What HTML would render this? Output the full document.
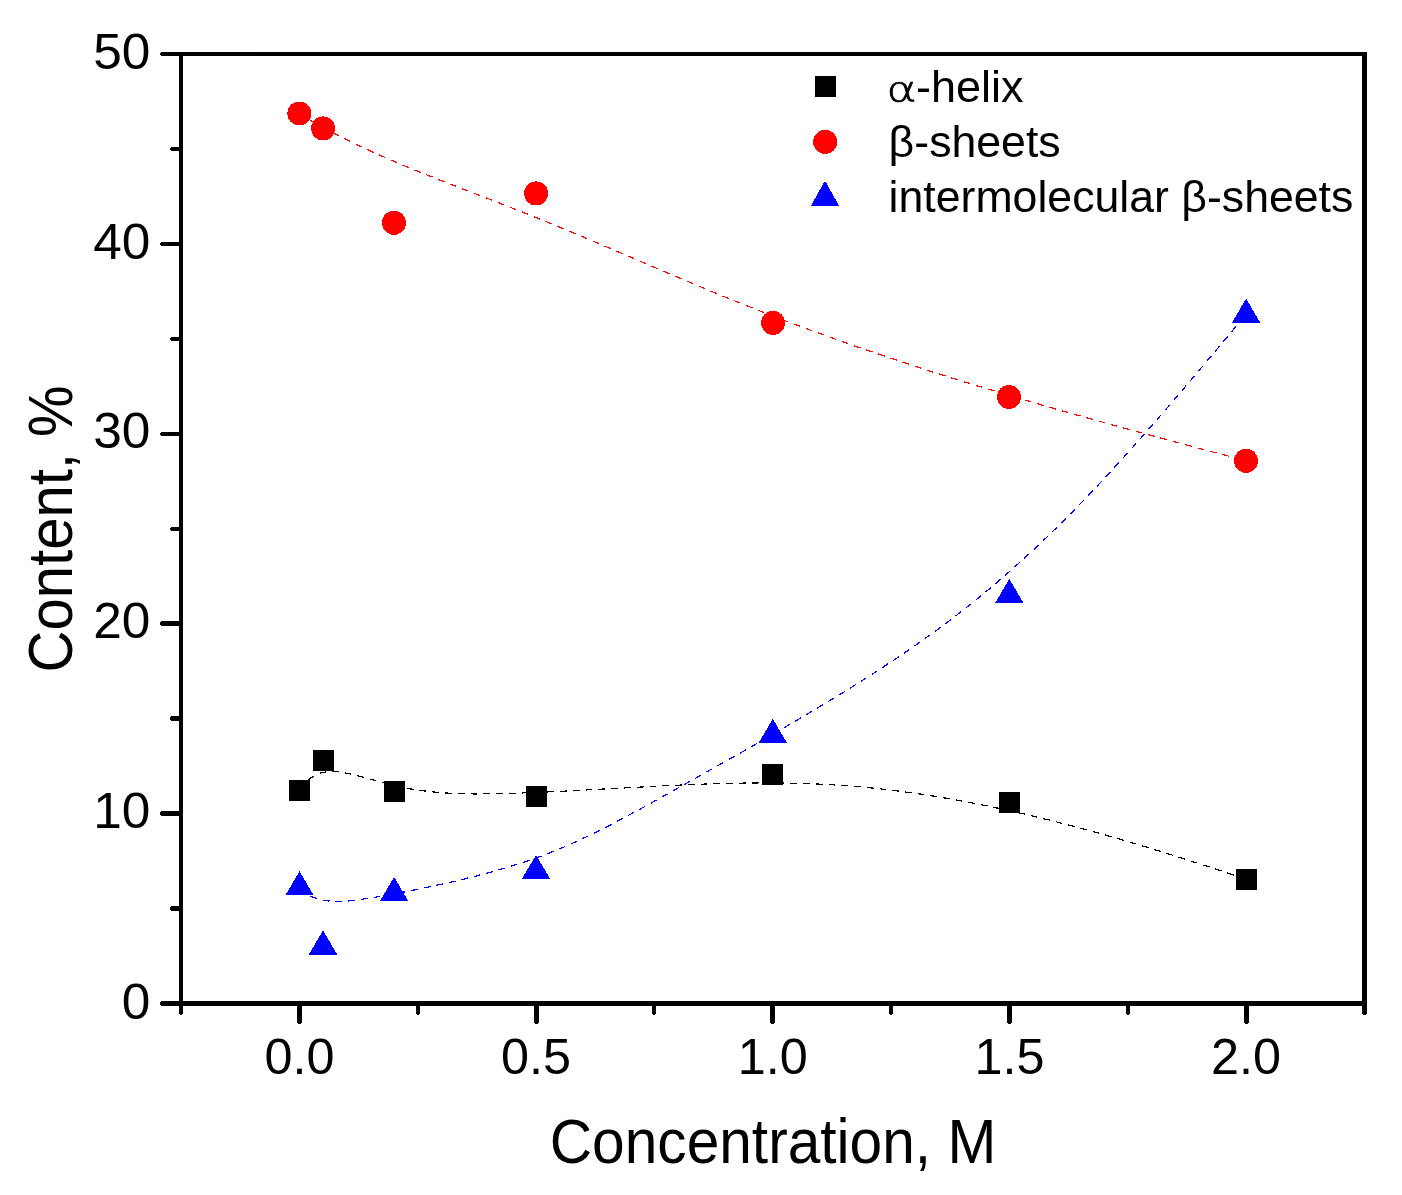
<!DOCTYPE html>
<html lang="en"><head><meta charset="utf-8"><title>Secondary structure content vs concentration</title>
<style>
html,body{margin:0;padding:0;background:#fff;}
body{width:1402px;height:1195px;overflow:hidden;}
svg{display:block;opacity:.999;will-change:transform;}
text{font-family:"Liberation Sans",Arial,Helvetica,sans-serif;fill:#000;}
.tk{font-size:49.3px;}
.ti{font-size:62.5px;}
.lg{font-size:44.6px;}
.al{font-family:"DejaVu Sans","Liberation Sans",sans-serif;font-weight:200;font-size:35.2px;stroke:#000;stroke-width:0.7;}
.ax rect{fill:#000;}
.fit{fill:none;stroke-width:1.2;stroke-dasharray:6.8 6;}
</style></head><body>
<svg width="1402" height="1195" viewBox="0 0 1402 1195">
<rect x="0" y="0" width="1402" height="1195" fill="#fff"/>
<g class="fit" shape-rendering="crispEdges">
<path d="M299.5 113.9 L302.5 115.7 L305.5 117.5 L308.5 119.3 L311.5 121.0 L314.5 122.7 L317.5 124.4 L320.5 126.0 L323.5 127.7 L326.5 129.3 L329.5 130.9 L332.5 132.5 L335.5 134.0 L338.5 135.6 L341.5 137.1 L344.5 138.6 L347.5 140.1 L350.5 141.6 L353.5 143.1 L356.5 144.5 L359.5 145.9 L362.5 147.3 L365.5 148.7 L368.5 150.1 L371.5 151.5 L374.5 152.9 L377.5 154.2 L380.5 155.5 L383.5 156.8 L386.5 158.2 L389.5 159.5 L392.5 160.7 L395.5 162.0 L398.5 163.3 L401.5 164.6 L404.5 165.8 L407.5 167.0 L410.5 168.3 L413.5 169.5 L416.5 170.7 L419.5 171.9 L422.5 173.2 L425.5 174.4 L428.5 175.6 L431.5 176.7 L434.5 177.9 L437.5 179.1 L440.5 180.3 L443.5 181.5 L446.5 182.6 L449.5 183.8 L452.5 185.0 L455.5 186.1 L458.5 187.3 L461.5 188.5 L464.5 189.6 L467.5 190.8 L470.5 191.9 L473.5 193.1 L476.5 194.2 L479.5 195.4 L482.5 196.5 L485.5 197.7 L488.5 198.8 L491.5 200.0 L494.5 201.2 L497.5 202.3 L500.5 203.5 L503.5 204.7 L506.5 205.8 L509.5 207.0 L512.5 208.2 L515.5 209.3 L518.5 210.5 L521.5 211.7 L524.5 212.9 L527.5 214.1 L530.5 215.3 L533.5 216.5 L536.5 217.7 L539.5 218.9 L542.5 220.1 L545.5 221.4 L548.5 222.6 L551.5 223.8 L554.5 225.0 L557.5 226.3 L560.5 227.5 L563.5 228.8 L566.5 230.0 L569.5 231.3 L572.5 232.5 L575.5 233.8 L578.5 235.0 L581.5 236.3 L584.5 237.5 L587.5 238.8 L590.5 240.1 L593.5 241.3 L596.5 242.6 L599.5 243.9 L602.5 245.2 L605.5 246.4 L608.5 247.7 L611.5 249.0 L614.5 250.3 L617.5 251.5 L620.5 252.8 L623.5 254.1 L626.5 255.4 L629.5 256.7 L632.5 258.0 L635.5 259.2 L638.5 260.5 L641.5 261.8 L644.5 263.1 L647.5 264.4 L650.5 265.6 L653.5 266.9 L656.5 268.2 L659.5 269.5 L662.5 270.8 L665.5 272.0 L668.5 273.3 L671.5 274.6 L674.5 275.9 L677.5 277.1 L680.5 278.4 L683.5 279.7 L686.5 280.9 L689.5 282.2 L692.5 283.5 L695.5 284.7 L698.5 286.0 L701.5 287.2 L704.5 288.5 L707.5 289.7 L710.5 291.0 L713.5 292.2 L716.5 293.5 L719.5 294.7 L722.5 295.9 L725.5 297.2 L728.5 298.4 L731.5 299.6 L734.5 300.8 L737.5 302.0 L740.5 303.2 L743.5 304.4 L746.5 305.6 L749.5 306.8 L752.5 308.0 L755.5 309.2 L758.5 310.4 L761.5 311.6 L764.5 312.7 L767.5 313.9 L770.5 315.1 L773.5 316.2 L776.5 317.4 L779.5 318.5 L782.5 319.7 L785.5 320.8 L788.5 321.9 L791.5 323.1 L794.5 324.2 L797.5 325.3 L800.5 326.4 L803.5 327.6 L806.5 328.7 L809.5 329.8 L812.5 330.9 L815.5 332.0 L818.5 333.1 L821.5 334.1 L824.5 335.2 L827.5 336.3 L830.5 337.4 L833.5 338.5 L836.5 339.5 L839.5 340.6 L842.5 341.7 L845.5 342.7 L848.5 343.8 L851.5 344.8 L854.5 345.9 L857.5 346.9 L860.5 348.0 L863.5 349.0 L866.5 350.0 L869.5 351.1 L872.5 352.1 L875.5 353.1 L878.5 354.1 L881.5 355.1 L884.5 356.1 L887.5 357.1 L890.5 358.1 L893.5 359.1 L896.5 360.1 L899.5 361.1 L902.5 362.1 L905.5 363.1 L908.5 364.1 L911.5 365.1 L914.5 366.1 L917.5 367.0 L920.5 368.0 L923.5 369.0 L926.5 369.9 L929.5 370.9 L932.5 371.9 L935.5 372.8 L938.5 373.8 L941.5 374.7 L944.5 375.7 L947.5 376.6 L950.5 377.6 L953.5 378.5 L956.5 379.4 L959.5 380.4 L962.5 381.3 L965.5 382.2 L968.5 383.1 L971.5 384.1 L974.5 385.0 L977.5 385.9 L980.5 386.8 L983.5 387.7 L986.5 388.6 L989.5 389.5 L992.5 390.4 L995.5 391.3 L998.5 392.2 L1001.5 393.1 L1004.5 394.0 L1007.5 394.9 L1010.5 395.8 L1013.5 396.7 L1016.5 397.6 L1019.5 398.5 L1022.5 399.4 L1025.5 400.2 L1028.5 401.1 L1031.5 402.0 L1034.5 402.9 L1037.5 403.7 L1040.5 404.6 L1043.5 405.5 L1046.5 406.3 L1049.5 407.2 L1052.5 408.1 L1055.5 408.9 L1058.5 409.8 L1061.5 410.6 L1064.5 411.5 L1067.5 412.3 L1070.5 413.2 L1073.5 414.0 L1076.5 414.9 L1079.5 415.7 L1082.5 416.6 L1085.5 417.4 L1088.5 418.2 L1091.5 419.1 L1094.5 419.9 L1097.5 420.7 L1100.5 421.6 L1103.5 422.4 L1106.5 423.2 L1109.5 424.1 L1112.5 424.9 L1115.5 425.7 L1118.5 426.5 L1121.5 427.4 L1124.5 428.2 L1127.5 429.0 L1130.5 429.8 L1133.5 430.7 L1136.5 431.5 L1139.5 432.3 L1142.5 433.1 L1145.5 433.9 L1148.5 434.7 L1151.5 435.5 L1154.5 436.4 L1157.5 437.2 L1160.5 438.0 L1163.5 438.8 L1166.5 439.6 L1169.5 440.4 L1172.5 441.2 L1175.5 442.0 L1178.5 442.8 L1181.5 443.6 L1184.5 444.4 L1187.5 445.2 L1190.5 446.0 L1193.5 446.8 L1196.5 447.6 L1199.5 448.4 L1202.5 449.2 L1205.5 450.0 L1208.5 450.8 L1211.5 451.6 L1214.5 452.4 L1217.5 453.2 L1220.5 454.0 L1223.5 454.8 L1226.5 455.6 L1229.5 456.4 L1232.5 457.2 L1235.5 458.0 L1238.5 458.8 L1241.5 459.6 L1244.5 460.4 L1246.0 460.8" stroke="#f00"/>
<path d="M299.5 889.8 L302.5 891.8 L305.5 893.6 L308.5 895.2 L311.5 896.5 L314.5 897.7 L317.5 898.7 L320.5 899.5 L323.5 900.2 L326.5 900.7 L329.5 901.1 L332.5 901.3 L335.5 901.5 L338.5 901.5 L341.5 901.4 L344.5 901.3 L347.5 901.1 L350.5 900.8 L353.5 900.4 L356.5 900.0 L359.5 899.6 L362.5 899.2 L365.5 898.7 L368.5 898.2 L371.5 897.7 L374.5 897.3 L377.5 896.8 L380.5 896.2 L383.5 895.7 L386.5 895.2 L389.5 894.7 L392.5 894.1 L395.5 893.6 L398.5 893.0 L401.5 892.4 L404.5 891.9 L407.5 891.3 L410.5 890.7 L413.5 890.1 L416.5 889.5 L419.5 888.9 L422.5 888.2 L425.5 887.6 L428.5 887.0 L431.5 886.3 L434.5 885.7 L437.5 885.0 L440.5 884.4 L443.5 883.7 L446.5 883.1 L449.5 882.4 L452.5 881.7 L455.5 881.0 L458.5 880.3 L461.5 879.6 L464.5 878.9 L467.5 878.1 L470.5 877.4 L473.5 876.7 L476.5 875.9 L479.5 875.1 L482.5 874.3 L485.5 873.5 L488.5 872.7 L491.5 871.9 L494.5 871.1 L497.5 870.2 L500.5 869.4 L503.5 868.5 L506.5 867.6 L509.5 866.7 L512.5 865.8 L515.5 864.8 L518.5 863.9 L521.5 862.9 L524.5 861.9 L527.5 860.9 L530.5 859.9 L533.5 858.8 L536.5 857.7 L539.5 856.6 L542.5 855.5 L545.5 854.4 L548.5 853.3 L551.5 852.1 L554.5 850.9 L557.5 849.7 L560.5 848.4 L563.5 847.2 L566.5 845.9 L569.5 844.6 L572.5 843.2 L575.5 841.9 L578.5 840.5 L581.5 839.1 L584.5 837.7 L587.5 836.3 L590.5 834.9 L593.5 833.4 L596.5 831.9 L599.5 830.5 L602.5 828.9 L605.5 827.4 L608.5 825.9 L611.5 824.4 L614.5 822.8 L617.5 821.2 L620.5 819.6 L623.5 818.1 L626.5 816.5 L629.5 814.8 L632.5 813.2 L635.5 811.6 L638.5 810.0 L641.5 808.3 L644.5 806.7 L647.5 805.0 L650.5 803.4 L653.5 801.7 L656.5 800.0 L659.5 798.4 L662.5 796.7 L665.5 795.0 L668.5 793.3 L671.5 791.7 L674.5 790.0 L677.5 788.3 L680.5 786.6 L683.5 784.9 L686.5 783.3 L689.5 781.6 L692.5 779.9 L695.5 778.2 L698.5 776.5 L701.5 774.9 L704.5 773.2 L707.5 771.5 L710.5 769.8 L713.5 768.1 L716.5 766.4 L719.5 764.7 L722.5 763.1 L725.5 761.4 L728.5 759.7 L731.5 758.0 L734.5 756.3 L737.5 754.6 L740.5 752.9 L743.5 751.2 L746.5 749.5 L749.5 747.7 L752.5 746.0 L755.5 744.3 L758.5 742.6 L761.5 740.9 L764.5 739.1 L767.5 737.4 L770.5 735.7 L773.5 733.9 L776.5 732.2 L779.5 730.5 L782.5 728.7 L785.5 727.0 L788.5 725.2 L791.5 723.5 L794.5 721.7 L797.5 719.9 L800.5 718.2 L803.5 716.4 L806.5 714.6 L809.5 712.8 L812.5 711.0 L815.5 709.2 L818.5 707.4 L821.5 705.6 L824.5 703.8 L827.5 702.0 L830.5 700.2 L833.5 698.4 L836.5 696.5 L839.5 694.7 L842.5 692.9 L845.5 691.0 L848.5 689.1 L851.5 687.3 L854.5 685.4 L857.5 683.5 L860.5 681.6 L863.5 679.7 L866.5 677.8 L869.5 675.9 L872.5 674.0 L875.5 672.1 L878.5 670.1 L881.5 668.2 L884.5 666.2 L887.5 664.2 L890.5 662.3 L893.5 660.3 L896.5 658.3 L899.5 656.2 L902.5 654.2 L905.5 652.2 L908.5 650.1 L911.5 648.0 L914.5 646.0 L917.5 643.9 L920.5 641.7 L923.5 639.6 L926.5 637.5 L929.5 635.3 L932.5 633.2 L935.5 631.0 L938.5 628.8 L941.5 626.6 L944.5 624.3 L947.5 622.1 L950.5 619.8 L953.5 617.5 L956.5 615.3 L959.5 612.9 L962.5 610.6 L965.5 608.3 L968.5 605.9 L971.5 603.5 L974.5 601.1 L977.5 598.7 L980.5 596.2 L983.5 593.8 L986.5 591.3 L989.5 588.8 L992.5 586.2 L995.5 583.7 L998.5 581.1 L1001.5 578.5 L1004.5 575.9 L1007.5 573.3 L1010.5 570.7 L1013.5 568.0 L1016.5 565.3 L1019.5 562.6 L1022.5 559.9 L1025.5 557.2 L1028.5 554.4 L1031.5 551.6 L1034.5 548.8 L1037.5 546.0 L1040.5 543.2 L1043.5 540.3 L1046.5 537.4 L1049.5 534.5 L1052.5 531.6 L1055.5 528.7 L1058.5 525.7 L1061.5 522.8 L1064.5 519.8 L1067.5 516.8 L1070.5 513.8 L1073.5 510.7 L1076.5 507.6 L1079.5 504.6 L1082.5 501.5 L1085.5 498.3 L1088.5 495.2 L1091.5 492.1 L1094.5 488.9 L1097.5 485.7 L1100.5 482.5 L1103.5 479.3 L1106.5 476.1 L1109.5 472.8 L1112.5 469.5 L1115.5 466.3 L1118.5 463.0 L1121.5 459.7 L1124.5 456.3 L1127.5 453.0 L1130.5 449.7 L1133.5 446.3 L1136.5 442.9 L1139.5 439.6 L1142.5 436.2 L1145.5 432.8 L1148.5 429.3 L1151.5 425.9 L1154.5 422.5 L1157.5 419.0 L1160.5 415.6 L1163.5 412.1 L1166.5 408.6 L1169.5 405.2 L1172.5 401.7 L1175.5 398.2 L1178.5 394.7 L1181.5 391.1 L1184.5 387.6 L1187.5 384.1 L1190.5 380.6 L1193.5 377.0 L1196.5 373.5 L1199.5 369.9 L1202.5 366.4 L1205.5 362.8 L1208.5 359.2 L1211.5 355.7 L1214.5 352.1 L1217.5 348.5 L1220.5 345.0 L1223.5 341.4 L1226.5 337.8 L1229.5 334.2 L1232.5 330.6 L1235.5 327.0 L1238.5 323.4 L1241.5 319.9 L1244.5 316.3 L1246.0 314.5" stroke="#00f"/>
<path d="M299.5 788.9 L302.5 785.4 L305.5 782.3 L308.5 779.7 L311.5 777.5 L314.5 775.7 L317.5 774.2 L320.5 773.1 L323.5 772.3 L326.5 771.8 L329.5 771.5 L332.5 771.5 L335.5 771.6 L338.5 771.9 L341.5 772.3 L344.5 772.8 L347.5 773.4 L350.5 774.0 L353.5 774.7 L356.5 775.4 L359.5 776.2 L362.5 777.0 L365.5 777.8 L368.5 778.6 L371.5 779.4 L374.5 780.3 L377.5 781.1 L380.5 781.9 L383.5 782.8 L386.5 783.6 L389.5 784.4 L392.5 785.1 L395.5 785.8 L398.5 786.5 L401.5 787.2 L404.5 787.8 L407.5 788.3 L410.5 788.9 L413.5 789.4 L416.5 789.9 L419.5 790.3 L422.5 790.7 L425.5 791.1 L428.5 791.4 L431.5 791.8 L434.5 792.1 L437.5 792.3 L440.5 792.6 L443.5 792.8 L446.5 793.0 L449.5 793.2 L452.5 793.3 L455.5 793.4 L458.5 793.6 L461.5 793.7 L464.5 793.7 L467.5 793.8 L470.5 793.8 L473.5 793.9 L476.5 793.9 L479.5 793.9 L482.5 793.9 L485.5 793.8 L488.5 793.8 L491.5 793.7 L494.5 793.7 L497.5 793.6 L500.5 793.6 L503.5 793.5 L506.5 793.4 L509.5 793.3 L512.5 793.2 L515.5 793.2 L518.5 793.1 L521.5 793.0 L524.5 792.8 L527.5 792.7 L530.5 792.6 L533.5 792.5 L536.5 792.4 L539.5 792.3 L542.5 792.1 L545.5 792.0 L548.5 791.9 L551.5 791.7 L554.5 791.6 L557.5 791.5 L560.5 791.3 L563.5 791.2 L566.5 791.0 L569.5 790.9 L572.5 790.7 L575.5 790.6 L578.5 790.4 L581.5 790.3 L584.5 790.1 L587.5 789.9 L590.5 789.8 L593.5 789.6 L596.5 789.5 L599.5 789.3 L602.5 789.1 L605.5 789.0 L608.5 788.8 L611.5 788.6 L614.5 788.5 L617.5 788.3 L620.5 788.1 L623.5 788.0 L626.5 787.8 L629.5 787.6 L632.5 787.5 L635.5 787.3 L638.5 787.2 L641.5 787.0 L644.5 786.8 L647.5 786.7 L650.5 786.5 L653.5 786.4 L656.5 786.2 L659.5 786.1 L662.5 785.9 L665.5 785.8 L668.5 785.6 L671.5 785.5 L674.5 785.3 L677.5 785.2 L680.5 785.1 L683.5 784.9 L686.5 784.8 L689.5 784.7 L692.5 784.6 L695.5 784.4 L698.5 784.3 L701.5 784.2 L704.5 784.1 L707.5 784.0 L710.5 783.9 L713.5 783.8 L716.5 783.7 L719.5 783.6 L722.5 783.5 L725.5 783.5 L728.5 783.4 L731.5 783.3 L734.5 783.2 L737.5 783.2 L740.5 783.1 L743.5 783.1 L746.5 783.0 L749.5 783.0 L752.5 783.0 L755.5 783.0 L758.5 782.9 L761.5 782.9 L764.5 782.9 L767.5 782.9 L770.5 782.9 L773.5 782.9 L776.5 783.0 L779.5 783.0 L782.5 783.0 L785.5 783.1 L788.5 783.1 L791.5 783.2 L794.5 783.3 L797.5 783.3 L800.5 783.4 L803.5 783.5 L806.5 783.6 L809.5 783.7 L812.5 783.8 L815.5 783.9 L818.5 784.1 L821.5 784.2 L824.5 784.4 L827.5 784.5 L830.5 784.7 L833.5 784.9 L836.5 785.1 L839.5 785.3 L842.5 785.5 L845.5 785.7 L848.5 785.9 L851.5 786.1 L854.5 786.4 L857.5 786.6 L860.5 786.9 L863.5 787.2 L866.5 787.5 L869.5 787.8 L872.5 788.1 L875.5 788.4 L878.5 788.7 L881.5 789.0 L884.5 789.4 L887.5 789.7 L890.5 790.1 L893.5 790.4 L896.5 790.8 L899.5 791.2 L902.5 791.6 L905.5 792.0 L908.5 792.4 L911.5 792.8 L914.5 793.2 L917.5 793.6 L920.5 794.1 L923.5 794.5 L926.5 795.0 L929.5 795.5 L932.5 795.9 L935.5 796.4 L938.5 796.9 L941.5 797.4 L944.5 797.9 L947.5 798.4 L950.5 798.9 L953.5 799.5 L956.5 800.0 L959.5 800.6 L962.5 801.1 L965.5 801.7 L968.5 802.2 L971.5 802.8 L974.5 803.4 L977.5 804.0 L980.5 804.6 L983.5 805.2 L986.5 805.8 L989.5 806.4 L992.5 807.0 L995.5 807.7 L998.5 808.3 L1001.5 808.9 L1004.5 809.6 L1007.5 810.3 L1010.5 810.9 L1013.5 811.6 L1016.5 812.3 L1019.5 812.9 L1022.5 813.6 L1025.5 814.3 L1028.5 815.0 L1031.5 815.8 L1034.5 816.5 L1037.5 817.2 L1040.5 817.9 L1043.5 818.7 L1046.5 819.4 L1049.5 820.1 L1052.5 820.9 L1055.5 821.6 L1058.5 822.4 L1061.5 823.2 L1064.5 824.0 L1067.5 824.7 L1070.5 825.5 L1073.5 826.3 L1076.5 827.1 L1079.5 827.9 L1082.5 828.7 L1085.5 829.5 L1088.5 830.4 L1091.5 831.2 L1094.5 832.0 L1097.5 832.8 L1100.5 833.7 L1103.5 834.5 L1106.5 835.4 L1109.5 836.2 L1112.5 837.1 L1115.5 837.9 L1118.5 838.8 L1121.5 839.7 L1124.5 840.6 L1127.5 841.4 L1130.5 842.3 L1133.5 843.2 L1136.5 844.1 L1139.5 845.0 L1142.5 845.9 L1145.5 846.8 L1148.5 847.7 L1151.5 848.7 L1154.5 849.6 L1157.5 850.5 L1160.5 851.4 L1163.5 852.4 L1166.5 853.3 L1169.5 854.2 L1172.5 855.2 L1175.5 856.1 L1178.5 857.1 L1181.5 858.0 L1184.5 859.0 L1187.5 859.9 L1190.5 860.9 L1193.5 861.9 L1196.5 862.8 L1199.5 863.8 L1202.5 864.8 L1205.5 865.8 L1208.5 866.8 L1211.5 867.7 L1214.5 868.7 L1217.5 869.7 L1220.5 870.7 L1223.5 871.7 L1226.5 872.7 L1229.5 873.7 L1232.5 874.7 L1235.5 875.7 L1238.5 876.7 L1241.5 877.7 L1244.5 878.8 L1246.6 879.5" stroke="#000"/>
</g>
<g class="ax" shape-rendering="crispEdges">
<rect x="179" y="52" width="1188" height="4"/>
<rect x="179" y="1001" width="1188" height="5"/>
<rect x="179" y="52" width="4" height="962"/>
<rect x="1362" y="52" width="5" height="962"/>
<rect x="180" y="1014" width="2" height="1"/><rect x="1363" y="1014" width="3" height="1"/>
<rect x="161" y="1001" width="20" height="5"/>
<rect x="160" y="1002" width="1" height="3"/>
<rect x="171" y="906" width="10" height="5"/>
<rect x="170" y="907" width="1" height="3"/>
<rect x="161" y="811" width="20" height="5"/>
<rect x="160" y="812" width="1" height="3"/>
<rect x="171" y="716" width="10" height="5"/>
<rect x="170" y="717" width="1" height="3"/>
<rect x="161" y="621" width="20" height="5"/>
<rect x="160" y="622" width="1" height="3"/>
<rect x="171" y="527" width="10" height="4"/>
<rect x="170" y="528" width="1" height="2"/>
<rect x="161" y="432" width="20" height="4"/>
<rect x="160" y="433" width="1" height="2"/>
<rect x="171" y="337" width="10" height="4"/>
<rect x="170" y="338" width="1" height="2"/>
<rect x="161" y="242" width="20" height="4"/>
<rect x="160" y="243" width="1" height="2"/>
<rect x="171" y="147" width="10" height="4"/>
<rect x="170" y="148" width="1" height="2"/>
<rect x="161" y="52" width="20" height="4"/>
<rect x="160" y="53" width="1" height="2"/>
<rect x="297" y="1003" width="5" height="20"/>
<rect x="298" y="1023" width="3" height="1"/>
<rect x="416" y="1003" width="4" height="11"/>
<rect x="417" y="1014" width="2" height="1"/>
<rect x="534" y="1003" width="5" height="20"/>
<rect x="535" y="1023" width="3" height="1"/>
<rect x="652" y="1003" width="4" height="11"/>
<rect x="653" y="1014" width="2" height="1"/>
<rect x="770" y="1003" width="5" height="20"/>
<rect x="771" y="1023" width="3" height="1"/>
<rect x="889" y="1003" width="4" height="11"/>
<rect x="890" y="1014" width="2" height="1"/>
<rect x="1007" y="1003" width="5" height="20"/>
<rect x="1008" y="1023" width="3" height="1"/>
<rect x="1126" y="1003" width="4" height="11"/>
<rect x="1127" y="1014" width="2" height="1"/>
<rect x="1244" y="1003" width="5" height="20"/>
<rect x="1245" y="1023" width="3" height="1"/>
</g>
<g fill="#000" shape-rendering="crispEdges">
<rect x="289.0" y="780.0" width="21" height="21"/>
<rect x="313.0" y="750.0" width="21" height="21"/>
<rect x="384.0" y="781.1" width="21" height="21"/>
<rect x="526.0" y="786.0" width="21" height="21"/>
<rect x="762.3" y="763.9" width="21" height="21"/>
<rect x="999.0" y="792.0" width="21" height="21"/>
<rect x="1236.1" y="869.1" width="21" height="21"/>
<rect x="815" y="76" width="21" height="21"/>
</g>
<g fill="#f00" shape-rendering="crispEdges">
<circle cx="299.4" cy="113.5" r="12"/>
<circle cx="323.1" cy="128.4" r="12"/>
<circle cx="394.0" cy="222.8" r="12"/>
<circle cx="536.1" cy="193.4" r="12"/>
<circle cx="773.0" cy="322.9" r="12"/>
<circle cx="1009.0" cy="397.0" r="12"/>
<circle cx="1246.0" cy="460.8" r="12"/>
<circle cx="825.2" cy="141.9" r="12"/>
</g>
<g fill="#00f" shape-rendering="crispEdges">
<path d="M299.5 871.2L313.7 895.4L285.3 895.4Z"/>
<path d="M323.0 930.4L337.2 954.6L308.8 954.6Z"/>
<path d="M394.1 877.0L408.3 901.0L379.9 901.0Z"/>
<path d="M536.0 855.0L550.2 879.0L521.8 879.0Z"/>
<path d="M772.8 718.9L787.0 742.9L758.6 742.9Z"/>
<path d="M1009.3 578.9L1023.5 603.0L995.1 603.0Z"/>
<path d="M1246.1 298.7L1260.3 322.8L1231.9 322.8Z"/>
<path d="M825 180.8L839.2 205.8L810.8 205.8Z"/>
</g>
<g class="tk">
<text transform="translate(150.4 1018.8) scale(1.043 1)" text-anchor="end">0</text>
<text transform="translate(150.4 827.9) scale(1.043 1)" text-anchor="end">10</text>
<text transform="translate(150.4 637.9) scale(1.043 1)" text-anchor="end">20</text>
<text transform="translate(150.4 447.9) scale(1.043 1)" text-anchor="end">30</text>
<text transform="translate(150.4 259.1) scale(1.043 1)" text-anchor="end">40</text>
<text transform="translate(150.4 68.9) scale(1.043 1)" text-anchor="end">50</text>
<text transform="translate(299.5 1073.6) scale(1.021 1)" text-anchor="middle">0.0</text>
<text transform="translate(536.1 1073.6) scale(1.021 1)" text-anchor="middle">0.5</text>
<text transform="translate(772.8 1073.6) scale(1.021 1)" text-anchor="middle">1.0</text>
<text transform="translate(1009.4 1073.6) scale(1.021 1)" text-anchor="middle">1.5</text>
<text transform="translate(1246.0 1073.6) scale(1.021 1)" text-anchor="middle">2.0</text>
</g>
<text class="ti" transform="translate(773.0 1162.9) scale(0.9383 1)" text-anchor="middle">Concentration, M</text>
<text class="ti" transform="translate(71.6 528.9) rotate(-90) scale(0.9285 1)" text-anchor="middle">Content, %</text>
<g class="lg">
<text class="al" transform="translate(886.6 102.1) scale(1.3 1)">α</text>
<text transform="translate(915.9 102.1) scale(1.009 1)">-helix</text>
<text transform="translate(888.6 156.8) scale(1.001 1)">β-sheets</text>
<text transform="translate(888.6 211.9) scale(1.001 1)">intermolecular β-sheets</text>
</g>
</svg></body></html>
